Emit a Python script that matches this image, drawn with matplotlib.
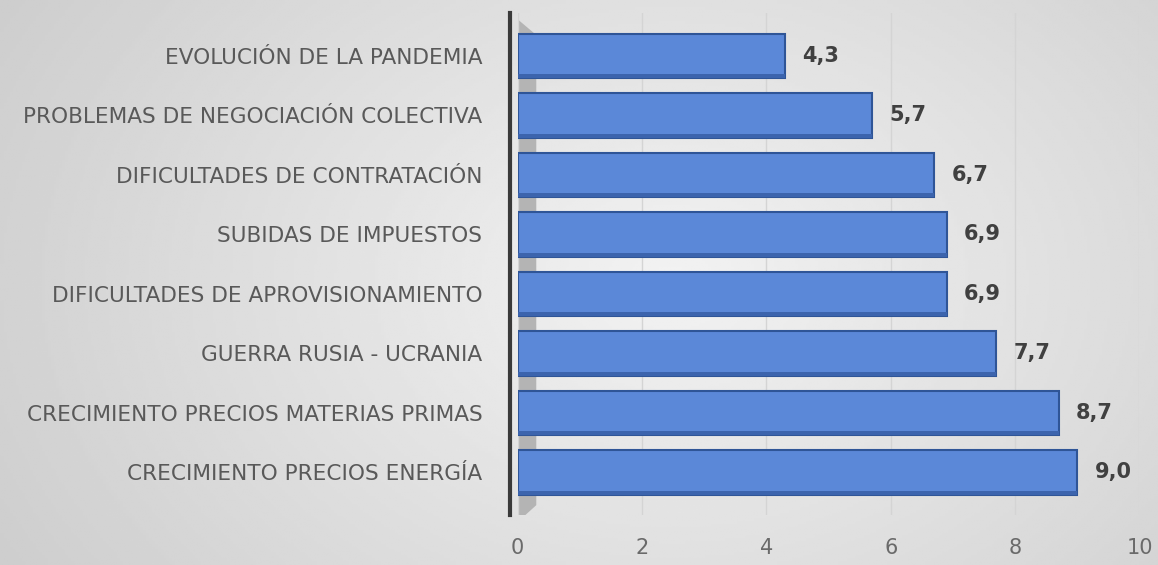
import numpy as np
import matplotlib.pyplot as plt

# Data (bottom to top, as drawn)
categories = [
    'CRECIMIENTO PRECIOS ENERGÍA',
    'CRECIMIENTO PRECIOS MATERIAS PRIMAS',
    'GUERRA RUSIA - UCRANIA',
    'DIFICULTADES DE APROVISIONAMIENTO',
    'SUBIDAS DE IMPUESTOS',
    'DIFICULTADES DE CONTRATACIÓN',
    'PROBLEMAS DE NEGOCIACIÓN COLECTIVA',
    'EVOLUCIÓN DE LA PANDEMIA',
]
values = [9.0, 8.7, 7.7, 6.9, 6.9, 6.7, 5.7, 4.3]
x_ticks = [0, 2, 4, 6, 8, 10]

plt.rcParams['font.family'] = ['DejaVu Sans']

fig = plt.figure(figsize=(11.58, 5.65), dpi=100)

# Gray radial-ish gradient background (lighter in the middle)
bg = fig.add_axes([0, 0, 1, 1], zorder=-10)
yy, xx = np.mgrid[0:1:200j, 0:1:400j]
dist = np.sqrt(((xx - 0.58) / 0.6) ** 2 + ((yy - 0.5) / 0.9) ** 2)
shade = 0.95 - 0.13 * dist
bg.imshow(shade, cmap='gray', vmin=0, vmax=1, aspect='auto',
          extent=[0, 1, 0, 1], origin='lower')
bg.set_xlim(0, 1)
bg.set_ylim(0, 1)
bg.axis('off')

ax = fig.add_axes([0.447, 0.088, 0.537, 0.889])
ax.patch.set_alpha(0)

# spine first: moving it resets the ticks
for side in ['top', 'right', 'bottom']:
    ax.spines[side].set_visible(False)
ax.spines['left'].set_color('#3a3a3a')
ax.spines['left'].set_linewidth(3)
ax.spines['left'].set_position(('data', -0.12))

# shaded side wall next to the axis
ax.fill([-0.12, 0.3, 0.3, 0.12, -0.12], [7.72, 7.35, -0.55, -0.72, -0.72],
        color='#b4b4b4', zorder=1, lw=0)

y = np.arange(len(categories))
ax.barh(y, values, height=0.75, color='#5b88d8', edgecolor='#2f5597',
        linewidth=1.5, zorder=3)
# darker lower rim for a bit of depth
ax.barh(y - 0.34, values, height=0.07, color='#3c64ad', lw=0, zorder=4)

for yi, v in zip(y, values):
    ax.text(v + 0.28, yi, f'{v:.1f}'.replace('.', ','), va='center',
            ha='left', fontsize=15, fontweight='bold', color='#404040')

ax.set_xlim(0, 10)
ax.set_ylim(-0.72, 7.72)
ax.set_xticks(x_ticks)
ax.set_xticklabels([str(t) for t in x_ticks])
ax.set_yticks(y)
ax.set_yticklabels(categories)
ax.tick_params(axis='y', length=0, pad=20, labelsize=15.6, labelcolor='#595959')
ax.tick_params(axis='x', length=0, pad=16, labelsize=15, labelcolor='#6a6a6a')

ax.grid(axis='x', color='#d4d4d4', linewidth=1, zorder=0)

fig.savefig('out.png', dpi=100)
